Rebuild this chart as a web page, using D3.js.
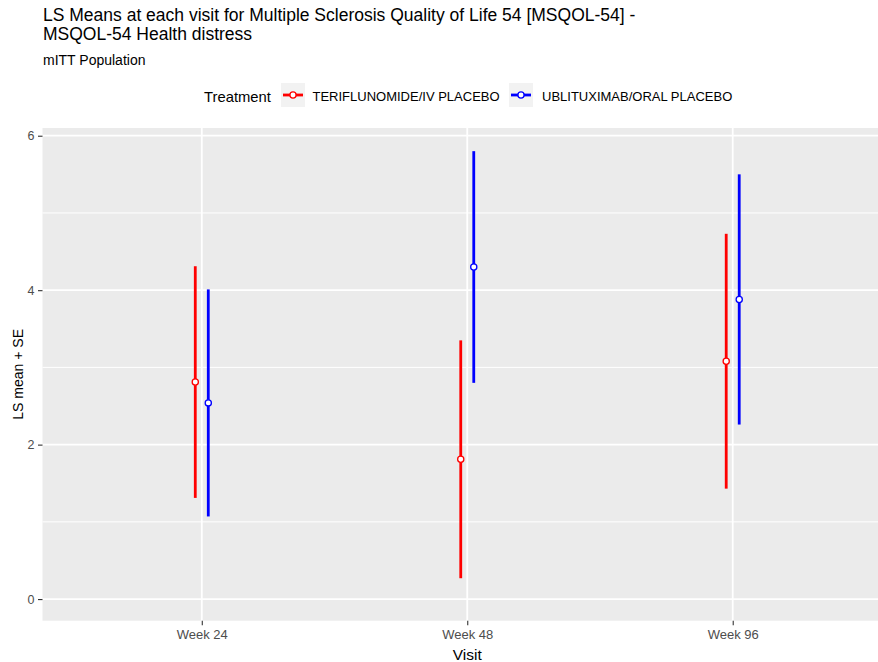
<!DOCTYPE html>
<html>
<head>
<meta charset="utf-8">
<script src="https://cdn.jsdelivr.net/npm/d3@7"></script>
<style>
  html, body { margin: 0; padding: 0; background: #fff; }
  svg { display: block; font-family: "Liberation Sans", Arial, sans-serif; }
</style>
</head>
<body>
<svg id="chart" width="878" height="662"></svg>
<script>
// Visits on the x axis
const visits = ["Week 24", "Week 48", "Week 96"];

// Treatment groups
const treatments = ["TERIFLUNOMIDE/IV PLACEBO", "UBLITUXIMAB/ORAL PLACEBO"];
const treatmentColors = ["#FF0000", "#0000FF"];

// LS means and standard errors per visit
const teriMean = [2.81, 1.81, 3.08];
const teriSE   = [1.50, 1.54, 1.65];
const ublMean  = [2.54, 4.30, 3.88];
const ublSE    = [1.47, 1.50, 1.62];

// Y axis ticks
const yTicks = [0, 2, 4, 6];
const yMinorTicks = [1, 3, 5];

const series = [
  { name: treatments[0], color: treatmentColors[0], mean: teriMean, se: teriSE, dodge: -1 },
  { name: treatments[1], color: treatmentColors[1], mean: ublMean, se: ublSE, dodge: 1 }
];

const svg = d3.select("#chart");

// Panel geometry (the panel runs past the right edge of the page)
const panel = { left: 42.5, right: 892, top: 128, bottom: 620.7 };

const x = d3.scaleLinear()
  .domain([0.4, visits.length + 0.6])
  .range([panel.left, panel.right]);
const y = d3.scaleLinear()
  .domain([-0.28, 6.10])
  .range([panel.bottom, panel.top]);
const dodgeWidth = 0.0245;

// Panel background
svg.append("rect")
  .attr("x", panel.left).attr("y", panel.top)
  .attr("width", panel.right - panel.left)
  .attr("height", panel.bottom - panel.top)
  .attr("fill", "#EBEBEB");

// Grid lines
const grid = svg.append("g");
grid.selectAll("line.minor").data(yMinorTicks).join("line")
  .attr("x1", panel.left).attr("x2", panel.right)
  .attr("y1", d => y(d)).attr("y2", d => y(d))
  .attr("stroke", "#fff").attr("stroke-width", 1);
grid.selectAll("line.majorY").data(yTicks).join("line")
  .attr("x1", panel.left).attr("x2", panel.right)
  .attr("y1", d => y(d)).attr("y2", d => y(d))
  .attr("stroke", "#fff").attr("stroke-width", 1.8);
grid.selectAll("line.majorX").data(visits).join("line")
  .attr("y1", panel.top).attr("y2", panel.bottom)
  .attr("x1", (d, i) => x(i + 1)).attr("x2", (d, i) => x(i + 1))
  .attr("stroke", "#fff").attr("stroke-width", 1.8);

// Y axis
const yAxis = d3.axisLeft(y).tickValues(yTicks).tickSize(4.5).tickPadding(3.5).tickFormat(d3.format("d"));
const yG = svg.append("g")
  .attr("transform", `translate(${panel.left},0)`)
  .call(yAxis);
yG.select(".domain").remove();
yG.selectAll(".tick line").attr("stroke", "#333333").attr("stroke-width", 1.1);
yG.selectAll(".tick text").attr("fill", "#4D4D4D").attr("font-size", 12.5)
  .attr("font-family", "Liberation Sans, Arial, sans-serif");

// X axis
const xAxis = d3.axisBottom(x).tickValues(visits.map((d, i) => i + 1))
  .tickFormat((d) => visits[d - 1]).tickSize(4.5).tickPadding(5);
const xG = svg.append("g")
  .attr("transform", `translate(0,${panel.bottom})`)
  .call(xAxis);
xG.select(".domain").remove();
xG.selectAll(".tick line").attr("stroke", "#333333").attr("stroke-width", 1.1);
xG.selectAll(".tick text").attr("fill", "#4D4D4D").attr("font-size", 13)
  .attr("font-family", "Liberation Sans, Arial, sans-serif");

// Error bars (mean ± SE) and means
series.forEach(s => {
  const g = svg.append("g");
  const rows = s.mean.map((m, i) => ({ i, m, lo: m - s.se[i], hi: m + s.se[i] }));
  const px = d => x(d.i + 1 + s.dodge * dodgeWidth);
  g.selectAll("line").data(rows).join("line")
    .attr("x1", px).attr("x2", px)
    .attr("y1", d => y(d.lo)).attr("y2", d => y(d.hi))
    .attr("stroke", s.color).attr("stroke-width", 2.8);
  g.selectAll("circle").data(rows).join("circle")
    .attr("cx", px).attr("cy", d => y(d.m))
    .attr("r", 3.1)
    .attr("fill", "#fff").attr("stroke", s.color).attr("stroke-width", 1.3);
});

// Titles
svg.append("text").attr("x", 43).attr("y", 20.5)
  .attr("font-size", 17.5).attr("fill", "#000")
  .text("LS Means at each visit for Multiple Sclerosis Quality of Life 54 [MSQOL-54] -");
svg.append("text").attr("x", 43).attr("y", 40)
  .attr("font-size", 17.5).attr("fill", "#000")
  .text("MSQOL-54 Health distress");
svg.append("text").attr("x", 43).attr("y", 64.5)
  .attr("font-size", 14).attr("fill", "#000")
  .text("mITT Population");

// Axis titles
svg.append("text")
  .attr("x", (panel.left + panel.right) / 2).attr("y", 660)
  .attr("text-anchor", "middle").attr("font-size", 15.5).attr("fill", "#000")
  .text("Visit");
svg.append("text")
  .attr("transform", `translate(23,${(panel.top + panel.bottom) / 2}) rotate(-90)`)
  .attr("text-anchor", "middle").attr("font-size", 14).attr("fill", "#000")
  .text("LS mean + SE");

// Legend
const legend = svg.append("g");
legend.append("text").attr("x", 204).attr("y", 101.5)
  .attr("font-size", 14.8).attr("fill", "#000").text("Treatment");
const keyX = [281, 509];
const labelX = [312.5, 542];
series.forEach((s, i) => {
  const k = legend.append("g").attr("transform", `translate(${keyX[i]},83)`);
  k.append("rect").attr("width", 24).attr("height", 24).attr("fill", "#F2F2F2");
  k.append("line").attr("x1", 2).attr("x2", 22).attr("y1", 12).attr("y2", 12)
    .attr("stroke", s.color).attr("stroke-width", 2.8);
  k.append("circle").attr("cx", 12).attr("cy", 12).attr("r", 3.1)
    .attr("fill", "#fff").attr("stroke", s.color).attr("stroke-width", 1.3);
  legend.append("text").attr("x", labelX[i]).attr("y", 100.5)
    .attr("font-size", 13).attr("fill", "#000").text(s.name);
});
</script>
</body>
</html>
